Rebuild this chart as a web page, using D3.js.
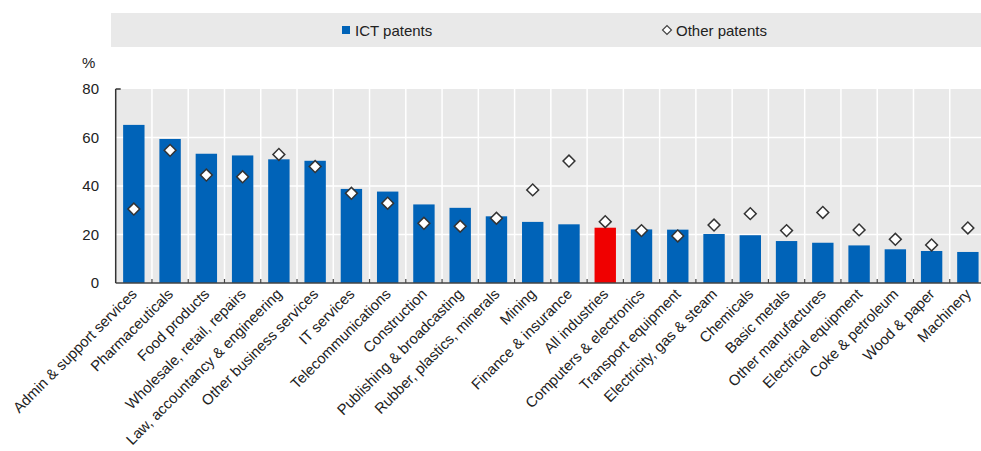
<!DOCTYPE html>
<html>
<head>
<meta charset="utf-8">
<script src="https://cdn.jsdelivr.net/npm/d3@7"></script>
<style>
  html, body { margin: 0; padding: 0; background: #fff; }
  svg { display: block; font-family: "Liberation Sans", Arial, sans-serif; }
</style>
</head>
<body>
<div id="chart"></div>
<script>
// Share of patents by industry (%)
const categories = [
  'Admin & support services', 'Pharmaceuticals', 'Food products',
  'Wholesale, retail, repairs', 'Law, accountancy & engineering',
  'Other business services', 'IT services', 'Telecommunications',
  'Construction', 'Publishing & broadcasting', 'Rubber, plastics, minerals',
  'Mining', 'Finance & insurance', 'All industries', 'Computers & electronics',
  'Transport equipment', 'Electricity, gas & steam', 'Chemicals',
  'Basic metals', 'Other manufactures', 'Electrical equipment',
  'Coke & petroleum', 'Wood & paper', 'Machinery'
]
const ictPatents = [65.2, 59.4, 53.3, 52.6, 51.0, 50.4, 38.8, 37.7, 32.4, 31.0, 27.5, 25.2,
  24.2, 22.8, 22.1, 22.0, 20.2, 19.7, 17.3, 16.6, 15.5, 13.9, 13.2, 12.8]
const otherPatents = [30.5, 54.7, 44.5, 43.8, 53.0, 48.0, 37.0, 32.9, 24.6, 23.4, 26.7, 38.4,
  50.3, 25.3, 21.6, 19.4, 23.9, 28.6, 21.6, 29.1, 21.9, 18.0, 15.7, 22.7]
const yTicks = [0, 20, 40, 60, 80]
const highlight = 'All industries'

const W = 981
const H = 451
const plot = { left: 115.7, right: 986, top: 89, bottom: 283 }

const data = categories.map((c, i) => ({ name: c, ict: ictPatents[i], other: otherPatents[i] }))

const svg = d3.select('#chart').append('svg')
  .attr('width', W)
  .attr('height', H)

const x = d3.scaleBand()
  .domain(categories)
  .range([plot.left, plot.right])
  .paddingInner(0.41)
  .paddingOuter(0.205)

const y = d3.scaleLinear()
  .domain([0, 80])
  .range([plot.bottom, plot.top])

const step = x.step()
const edge = d => x(d) - step * 0.205

// legend strip
svg.append('rect')
  .attr('x', 111).attr('y', 13)
  .attr('width', W - 111).attr('height', 34)
  .attr('fill', '#e9e9e9')

svg.append('rect')
  .attr('x', 342).attr('y', 26)
  .attr('width', 8).attr('height', 8)
  .attr('fill', '#0063b8')
svg.append('text')
  .attr('x', 355).attr('y', 36)
  .attr('font-size', 15).attr('fill', '#222')
  .text('ICT patents')

svg.append('path')
  .attr('d', d3.symbol(d3.symbolSquare, 40)())
  .attr('transform', 'translate(667,30) rotate(45)')
  .attr('fill', '#fff').attr('stroke', '#444').attr('stroke-width', 1.2)
svg.append('text')
  .attr('x', 676).attr('y', 36)
  .attr('font-size', 15).attr('fill', '#222')
  .text('Other patents')

// plot background
svg.append('rect')
  .attr('x', plot.left).attr('y', plot.top)
  .attr('width', plot.right - plot.left).attr('height', plot.bottom - plot.top)
  .attr('fill', '#e9e9e9')

// gridlines
svg.append('g').selectAll('line')
  .data(yTicks.slice(1, -1))
  .join('line')
  .attr('x1', plot.left).attr('x2', plot.right)
  .attr('y1', d => y(d)).attr('y2', d => y(d))
  .attr('stroke', '#fff').attr('stroke-width', 1.5)

svg.append('g').selectAll('line')
  .data(categories.slice(1))
  .join('line')
  .attr('x1', d => edge(d)).attr('x2', d => edge(d))
  .attr('y1', plot.top).attr('y2', plot.bottom)
  .attr('stroke', '#fff').attr('stroke-width', 1.5)

// bars
svg.append('g').selectAll('rect')
  .data(data)
  .join('rect')
  .attr('x', d => x(d.name))
  .attr('y', d => y(d.ict))
  .attr('width', x.bandwidth())
  .attr('height', d => y(0) - y(d.ict))
  .attr('fill', d => d.name === highlight ? '#f00000' : '#0063b8')

// bottom axis with ticks at band edges
svg.append('line')
  .attr('x1', plot.left).attr('x2', plot.right)
  .attr('y1', plot.bottom).attr('y2', plot.bottom)
  .attr('stroke', '#444').attr('stroke-width', 1.5)
svg.append('g').selectAll('line')
  .data(categories.slice(1))
  .join('line')
  .attr('x1', d => edge(d)).attr('x2', d => edge(d))
  .attr('y1', plot.bottom).attr('y2', plot.bottom - 4)
  .attr('stroke', '#444').attr('stroke-width', 1.2)

// left axis
svg.append('line')
  .attr('x1', plot.left).attr('x2', plot.left)
  .attr('y1', plot.top).attr('y2', plot.bottom)
  .attr('stroke', '#333').attr('stroke-width', 1.5)
svg.append('line')
  .attr('x1', plot.left).attr('x2', plot.left + 5)
  .attr('y1', plot.top).attr('y2', plot.top)
  .attr('stroke', '#333').attr('stroke-width', 1.5)

svg.append('g').selectAll('text')
  .data(yTicks)
  .join('text')
  .attr('x', 99)
  .attr('y', d => y(d))
  .attr('dy', '0.36em')
  .attr('text-anchor', 'end')
  .attr('font-size', 15).attr('fill', '#222')
  .text(d => d)

svg.append('text')
  .attr('x', 82).attr('y', 68)
  .attr('font-size', 15).attr('fill', '#222')
  .text('%')

// diamonds
svg.append('g').selectAll('path')
  .data(data)
  .join('path')
  .attr('d', d3.symbol(d3.symbolSquare, 70)())
  .attr('transform', d => `translate(${x(d.name) + x.bandwidth() / 2},${y(d.other)}) rotate(45)`)
  .attr('fill', '#fff').attr('stroke', '#333').attr('stroke-width', 1.5)

// category labels
svg.append('g').selectAll('text')
  .data(categories)
  .join('text')
  .attr('transform', d => `translate(${x(d) + x.bandwidth() / 2 + 4},${plot.bottom + 12}) rotate(-45)`)
  .attr('text-anchor', 'end')
  .attr('font-size', 14.8).attr('fill', '#222')
  .text(d => d)
</script>
</body>
</html>
